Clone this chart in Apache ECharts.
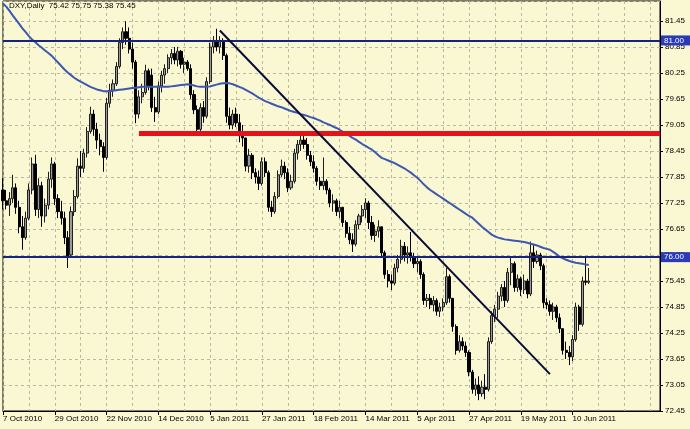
<!DOCTYPE html>
<html><head><meta charset="utf-8">
<script src="https://cdn.jsdelivr.net/npm/echarts@6/dist/echarts.min.js"></script>
<style>html,body{margin:0;padding:0;background:#faf8d2;}#c{width:690px;height:429px;}</style>
</head><body><div id="c"></div>
<script>
// ---- data ----
const startDate = '2010-10-07';   // first daily bar
const barCount = 182;             // bars shown
const emptySlots = 22;            // chart shift area on the right
const opens = [77.55,77.30,77.20,77.35,77.60,77.15,76.70,76.45,76.90,77.55,78.15,77.10,77.65,76.95,77.20,77.80,78.15,77.35,77.05,76.90,
76.45,76.05,77.05,77.40,78.10,78.05,78.40,78.90,79.30,78.95,78.70,78.55,78.30,79.55,79.85,80.00,80.40,80.95,81.20,81.05,
80.80,80.50,79.30,79.70,79.80,80.30,80.20,79.45,79.35,79.95,80.20,80.35,80.60,80.70,80.55,80.75,80.45,80.50,80.35,79.75,
79.40,78.95,79.45,79.25,80.05,80.85,81.00,80.85,81.00,80.65,79.25,79.05,79.30,79.10,78.80,78.75,78.10,78.35,77.95,77.85,
77.70,78.20,77.95,77.15,77.05,77.40,77.90,78.10,77.95,77.60,77.75,78.40,78.60,78.70,78.60,78.35,78.20,78.05,77.75,77.65,
77.75,77.55,77.25,77.30,77.05,77.15,76.80,76.55,76.40,76.30,76.75,76.95,77.10,77.25,76.80,76.50,76.60,76.70,76.10,75.60,
75.45,75.40,75.75,75.95,76.25,76.05,76.10,76.00,75.85,75.90,75.60,75.00,75.05,74.90,75.00,74.75,74.85,74.95,75.55,75.05,
74.40,73.85,74.05,73.95,73.80,73.35,72.95,73.05,72.85,73.00,72.95,74.05,74.65,74.80,75.10,75.30,75.00,75.65,75.85,75.30,
75.50,75.25,75.45,75.15,76.10,75.90,76.05,75.80,74.95,74.90,74.75,74.85,74.60,74.35,73.85,73.80,73.70,74.10,74.85,74.45,
75.45,75.42];
const highs = [77.82,77.55,77.50,77.90,77.70,77.30,76.95,77.05,77.70,78.30,78.36,77.82,77.74,77.35,77.97,78.30,78.20,77.45,77.30,77.05,
76.60,77.17,77.55,78.28,78.45,78.50,79.00,79.47,79.40,79.10,78.85,78.65,79.67,80.00,80.10,80.50,81.05,81.30,81.44,81.30,
80.95,80.55,79.85,80.00,80.44,80.35,80.35,79.70,80.05,80.30,80.45,80.68,80.80,80.85,80.85,80.78,80.60,80.55,80.45,79.85,
79.50,79.55,79.60,80.15,80.95,81.10,81.27,81.10,81.05,80.70,79.45,79.40,79.45,79.30,79.05,78.75,78.50,78.40,78.05,78.00,
78.30,78.30,78.00,77.30,77.50,78.00,78.25,78.20,78.05,77.90,78.50,78.70,78.82,78.80,78.75,78.45,78.35,78.10,77.85,78.30,
77.80,77.60,77.45,77.35,77.30,77.15,76.85,76.70,76.55,76.85,77.00,77.20,77.36,77.30,76.95,76.75,76.85,76.70,76.15,75.70,
75.60,75.85,76.05,76.40,76.35,76.25,76.58,76.10,76.00,75.95,75.65,75.15,75.15,75.10,75.05,74.95,75.05,75.75,75.60,75.05,
74.45,74.20,74.15,74.05,73.85,73.40,73.20,73.25,73.15,73.30,74.15,74.75,74.90,75.20,75.38,75.45,75.75,75.98,75.90,75.60,
75.55,75.60,75.50,76.36,76.30,76.15,76.10,75.85,75.05,75.00,74.95,74.90,74.70,74.35,74.05,73.95,74.20,74.95,74.90,75.55,
76.00,75.75];
const lows = [77.10,77.10,76.95,77.25,77.00,76.55,76.17,76.40,76.85,77.45,76.95,76.90,76.70,76.80,77.10,77.60,77.20,76.90,76.75,76.30,
75.75,76.00,76.95,77.35,77.85,77.95,78.30,78.85,78.80,78.50,78.35,77.97,78.25,79.45,79.70,79.95,80.35,80.80,80.90,80.70,
80.35,79.09,79.20,79.55,79.75,79.85,79.35,79.12,79.30,79.80,80.00,80.25,80.45,80.45,80.40,80.35,80.25,80.30,79.65,79.30,
78.80,78.90,79.10,79.20,80.00,80.70,80.75,80.70,80.55,79.10,78.95,78.95,79.00,78.65,78.55,77.98,77.95,77.80,77.70,77.55,
77.65,77.85,77.05,76.93,77.00,77.35,77.85,77.80,77.50,77.55,77.70,78.25,78.45,78.50,78.25,78.10,77.95,77.65,77.55,77.55,
77.45,77.15,77.05,76.95,76.90,76.70,76.45,76.30,76.12,76.25,76.65,76.80,76.90,76.65,76.40,76.35,76.45,76.00,75.50,75.30,
75.24,75.35,75.65,75.85,75.90,75.85,75.90,75.75,75.65,75.50,74.90,74.85,74.80,74.75,74.65,74.62,74.75,74.90,74.95,74.28,
73.75,73.80,73.85,73.70,73.25,72.85,72.80,72.70,72.78,72.72,72.90,74.00,74.50,74.60,74.98,74.85,74.95,75.35,75.20,75.20,
75.10,75.15,75.05,75.10,75.75,75.85,75.70,74.82,74.80,74.65,74.55,74.50,74.25,73.75,73.65,73.51,73.60,74.05,74.30,74.40,
75.35,75.38];
const closes = [77.30,77.20,77.35,77.60,77.15,76.70,76.45,76.90,77.55,78.15,77.10,77.65,76.95,77.20,77.80,78.15,77.35,77.05,76.90,76.45,
76.00,77.05,77.40,78.10,78.05,78.40,78.90,79.30,78.95,78.70,78.55,78.30,79.55,79.85,80.00,80.40,80.95,81.20,81.05,80.80,
80.50,79.30,79.70,79.80,80.30,79.95,79.45,79.35,79.95,80.20,80.35,80.60,80.70,80.55,80.75,80.45,80.50,80.35,79.75,79.40,
78.95,79.45,79.25,80.05,80.85,81.00,80.85,81.00,80.65,79.25,79.05,79.30,79.10,78.80,78.75,78.10,78.35,77.95,77.85,77.70,
78.20,77.95,77.15,77.05,77.40,77.90,78.10,77.95,77.60,77.75,78.40,78.60,78.70,78.60,78.35,78.20,78.05,77.75,77.65,77.75,
77.55,77.25,77.30,77.05,77.15,76.80,76.55,76.40,76.30,76.75,76.95,77.10,77.25,76.80,76.50,76.60,76.70,76.10,75.60,75.45,
75.40,75.75,75.95,76.25,76.05,76.10,76.00,75.85,75.90,75.60,75.00,75.05,74.90,75.00,74.75,74.85,74.95,75.55,75.05,74.40,
73.85,74.05,73.95,73.80,73.35,72.95,73.05,72.85,73.00,72.95,74.05,74.65,74.80,75.10,75.30,75.00,75.65,75.85,75.30,75.50,
75.25,75.45,75.15,76.10,75.90,76.05,75.80,74.95,74.90,74.75,74.85,74.60,74.35,73.85,73.80,73.70,74.10,74.85,74.45,75.45,
75.42,75.45];
const maValues = [81.85,81.78,81.68,81.58,81.48,81.38,81.28,81.19,81.10,81.02,80.96,80.89,80.83,80.77,80.71,80.65,80.57,80.49,80.41,80.33,
80.26,80.20,80.14,80.09,80.05,80.01,79.97,79.93,79.90,79.87,79.85,79.83,79.83,79.83,79.84,79.85,79.86,79.87,79.88,79.89,
79.90,79.91,79.92,79.93,79.93,79.93,79.93,79.93,79.93,79.93,79.93,79.93,79.94,79.95,79.96,79.97,79.98,79.99,79.98,79.96,
79.94,79.93,79.93,79.93,79.94,79.96,79.98,80.00,80.01,80.02,80.01,79.99,79.96,79.93,79.90,79.86,79.82,79.78,79.73,79.68,
79.64,79.60,79.57,79.54,79.51,79.48,79.46,79.43,79.40,79.37,79.35,79.33,79.30,79.28,79.26,79.23,79.21,79.18,79.15,79.11,
79.08,79.05,79.01,78.98,78.94,78.89,78.85,78.80,78.75,78.71,78.66,78.61,78.57,78.52,78.48,78.42,78.35,78.29,78.26,78.23,
78.20,78.17,78.13,78.09,78.05,78.00,77.95,77.89,77.83,77.76,77.68,77.61,77.55,77.50,77.45,77.40,77.35,77.30,77.25,77.20,
77.15,77.10,77.05,77.00,76.95,76.91,76.84,76.77,76.70,76.64,76.58,76.52,76.48,76.45,76.43,76.41,76.40,76.39,76.38,76.37,
76.36,76.35,76.33,76.31,76.29,76.27,76.24,76.21,76.19,76.17,76.12,76.07,76.01,75.97,75.94,75.91,75.89,75.87,75.86,75.85,
75.83,75.82];
const levelLines = [81.00, 76.00];
const lastPrice = 75.45;
const supportLevel = 78.85;
const supportStartIndex = 42;
const trendStart = [67, 81.23];
const trendEnd = [169, 73.30];
const headerText = 'DXY,Daily  75.42 75.75 75.38 75.45';
const monthNames = ['Jan','Feb','Mar','Apr','May','Jun','Jul','Aug','Sep','Oct','Nov','Dec'];

// ---- categories: consecutive weekdays ----
function buildCategories() {
  const out = [];
  const d = new Date(startDate + 'T00:00:00Z');
  while (out.length < barCount) {
    const wd = d.getUTCDay();
    if (wd !== 0 && wd !== 6) out.push(d.getUTCDate() + ' ' + monthNames[d.getUTCMonth()] + ' ' + d.getUTCFullYear());
    d.setUTCDate(d.getUTCDate() + 1);
  }
  for (let i = 0; i < emptySlots; i++) out.push('');
  return out;
}
const categories = buildCategories();
const ohlc = opens.map((o, i) => [o, closes[i], lows[i], highs[i]]);

const FONT = 'Liberation Sans, Arial, sans-serif';
const gridColor = '#bdb8a0';
const chart = echarts.init(document.getElementById('c'), null, {renderer: 'canvas'});
const boxLabel = (txt, bg) => ({
  show: true, position: 'end', formatter: txt, distance: 1,
  backgroundColor: bg, color: '#ffffff', fontSize: 8, fontFamily: FONT,
  padding: [1, 6, 1, 3]
});
chart.setOption({
  animation: false,
  backgroundColor: '#faf8d2',
  textStyle: {fontFamily: FONT},
  title: {text: headerText, left: 9, top: 2, padding: 0,
    textStyle: {fontSize: 8, fontWeight: 'normal', color: '#000', fontFamily: FONT}},
  grid: {left: 1, right: 30, top: 1, bottom: 18, show: true, borderColor: '#000', borderWidth: 1},
  xAxis: {
    type: 'category', data: categories, boundaryGap: false,
    axisLine: {show: true, lineStyle: {color: '#000', width: 1}},
    axisTick: {show: true, length: 4, interval: (i, v) => i % 16 === 0 && v !== '', lineStyle: {color: '#000'}},
    axisLabel: {interval: (i, v) => i % 16 === 0 && v !== '', align: 'left', fontSize: 8, color: '#000', margin: 4, fontFamily: FONT},
    splitLine: {show: true, interval: (i) => i % 8 === 0, lineStyle: {color: gridColor, type: [3, 3], width: 1}}
  },
  yAxis: {
    type: 'value', position: 'right', min: 72.45, max: 81.91, interval: 0.6,
    axisLine: {show: true, lineStyle: {color: '#000'}},
    axisTick: {show: true, length: 3, lineStyle: {color: '#000'}},
    axisLabel: {showMaxLabel: false, formatter: v => v.toFixed(2), fontSize: 8, color: '#000', margin: 5, fontFamily: FONT},
    splitLine: {show: true, lineStyle: {color: gridColor, type: [3, 3], width: 1}}
  },
  series: [
    {
      type: 'candlestick', data: ohlc, barWidth: 2.6,
      itemStyle: {color: '#9a9a9a', color0: '#000000', borderColor: '#1e1e1e', borderColor0: '#000000', borderWidth: 1},
      markLine: {
        symbol: ['none', 'none'], silent: true, animation: false,
        data: [
          {yAxis: levelLines[0], lineStyle: {color: '#16237f', width: 2, type: 'solid'}, label: boxLabel(levelLines[0].toFixed(2), '#2a3ab8')},
          {yAxis: levelLines[1], lineStyle: {color: '#16237f', width: 2, type: 'solid'}, label: boxLabel(levelLines[1].toFixed(2), '#2a3ab8')},
          {yAxis: lastPrice, lineStyle: {opacity: 0}, label: boxLabel(lastPrice.toFixed(2), '#000000')},
          [{coord: [supportStartIndex, supportLevel], lineStyle: {color: '#e3121b', width: 5, type: 'solid'}, label: {show: false}},
           {coord: [categories.length - 1, supportLevel]}],
          [{coord: trendStart, lineStyle: {color: '#0b0b38', width: 2, type: 'solid'}, label: {show: false}},
           {coord: trendEnd}]
        ]
      }
    },
    {
      type: 'line', data: maValues, symbol: 'none', showSymbol: false,
      lineStyle: {color: '#3d58b0', width: 2}, z: 3
    }
  ]
});
</script></body></html>
